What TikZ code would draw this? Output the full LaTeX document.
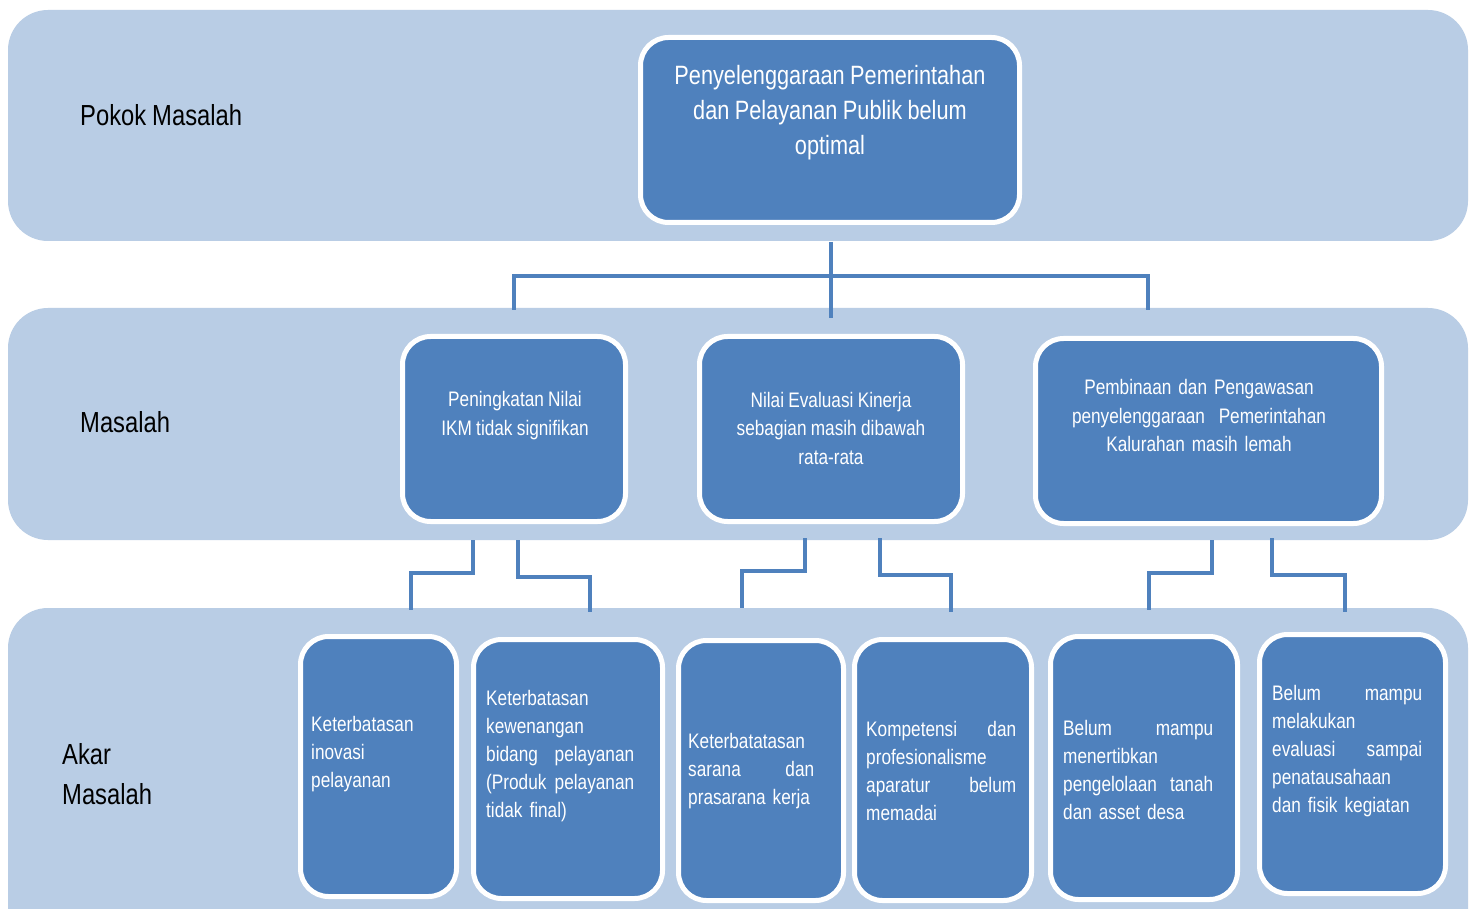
\documentclass[tikz,border=0pt]{standalone}
\usepackage{fontspec}
\setmainfont{Liberation Sans}[FakeStretch=0.82,WordSpace=0.9]
\definecolor{bandc}{HTML}{B9CDE5}
\definecolor{boxc}{HTML}{4F81BD}
\begin{document}
\begin{tikzpicture}[x=1pt,y=-1pt,
  band/.style={fill=bandc, draw=none, rounded corners=40pt, inner sep=0pt},
  box/.style={fill=boxc, draw=white, line width=5pt, rounded corners=28pt, inner sep=0pt},
  conn/.style={draw=boxc, line width=4pt},
  lbl/.style={font=\fontsize{29}{40}\selectfont, anchor=west, align=left, inner sep=0pt, text=black},
  toptxt/.style={font=\fontsize{26.5}{35}\selectfont, text=white, align=center, inner sep=0pt},
  midtxt/.style={font=\fontsize{21}{28.5}\selectfont, text=white, align=center, inner sep=0pt},
  bottxt/.style={font=\fontsize{21}{28}\selectfont, text=white, align=left, inner sep=0pt, anchor=west}
]
\useasboundingbox (0,0) rectangle (1476,909);
\clip (0,0) rectangle (1476,909);
\fill[white] (0,0) rectangle (1476,909);

% bands
\node[band, minimum width=1460pt, minimum height=231pt] (band1) at (738,125.5) {};
\node[band, minimum width=1460pt, minimum height=232pt] (band2) at (738,424) {};
\node[band, minimum width=1460pt, minimum height=360pt] (band3) at (738,788) {};

% labels
\node[lbl] (l1) at (80,115) {Pokok Masalah};
\node[lbl] (l2) at (80,422) {Masalah};
\node[lbl] (l3) at (62,774) {Akar\\Masalah};

% top box
\node[box, minimum width=379pt, minimum height=185pt] (top) at (830,130) {};
\node[toptxt] (ttop) at (830,113) {Penyelenggaraan Pemerintahan\\dan Pelayanan Publik belum\\optimal};

% middle boxes
\node[box, minimum width=223pt, minimum height=185pt] (m1) at (514,429) {};
\node[box, minimum width=263pt, minimum height=185pt] (m2) at (831,429) {};
\node[box, minimum width=346pt, minimum height=185pt] (m3) at (1208.5,431) {};
\node[midtxt] (tm1) at (515,415.5) {Peningkatan Nilai\\IKM tidak signifikan};
\node[midtxt] (tm2) at (831,428) {Nilai Evaluasi Kinerja\\sebagian masih dibawah\\rata-rata};
\node[midtxt, text width=254pt] (tm3) at (1199,415.5) {Pembinaan dan Pengawasan\\penyelenggaraan\hfill Pemerintahan\\Kalurahan masih lemah};

% bottom boxes
\node[box, minimum width=156pt, minimum height=260pt] (b1) at (378.5,766.5) {};
\node[box, minimum width=189pt, minimum height=259pt] (b2) at (568,769) {};
\node[box, minimum width=165pt, minimum height=260pt] (b3) at (761,770.5) {};
\node[box, minimum width=177pt, minimum height=261pt] (b4) at (943,770) {};
\node[box, minimum width=187pt, minimum height=263pt] (b5) at (1144,768) {};
\node[box, minimum width=186pt, minimum height=259pt] (b6) at (1352.5,764) {};

\node[bottxt, text width=135pt] (tb1) at (311,754) {Keterbatasan\\inovasi\\pelayanan};
\node[bottxt, text width=148pt] (tb2) at (486,756) {Keterbatasan\\kewenangan\\bidang\hfill pelayanan\\(Produk\hfill pelayanan\\tidak final)};
\node[bottxt, text width=126pt] (tb3) at (688,771) {Keterbatatasan\\sarana\hfill dan\\prasarana kerja};
\node[bottxt, text width=150pt] (tb4) at (866,771) {Kompetensi\hfill dan\\profesionalisme\\aparatur\hfill belum\\memadai};
\node[bottxt, text width=150pt] (tb5) at (1063,770) {Belum\hfill mampu\\menertibkan\\pengelolaan\hfill tanah\\dan asset desa};
\node[bottxt, text width=150pt] (tb6) at (1272,751) {Belum\hfill mampu\\melakukan\\evaluasi\hfill sampai\\penatausahaan\\dan fisik kegiatan};

% connector coordinates: top level
\coordinate (h0) at (831,242);
\coordinate (h1) at (831,318);
\coordinate (hl) at (514,310);
\coordinate (hr) at (1148,310);
\draw[conn] (h0) -- (h1);
\draw[conn] (hl) -- (514,276) -- (1148,276) -- (hr);

% connector coordinates: middle to bottom
\coordinate (a1) at (473,540); \coordinate (e1) at (411,610);
\coordinate (a2) at (518,540); \coordinate (e2) at (590,612);
\coordinate (a3) at (805,538); \coordinate (e3) at (742,608);
\coordinate (a4) at (880,538); \coordinate (e4) at (951,612);
\coordinate (a5) at (1212,540); \coordinate (e5) at (1149,610);
\coordinate (a6) at (1272,538); \coordinate (e6) at (1345,612);
\draw[conn] (a1) |- (442,573) -| (e1);
\draw[conn] (a2) |- (554,577) -| (e2);
\draw[conn] (a3) |- (773,571) -| (e3);
\draw[conn] (a4) |- (915,575) -| (e4);
\draw[conn] (a5) |- (1180,573) -| (e5);
\draw[conn] (a6) |- (1308,575) -| (e6);
\end{tikzpicture}
\end{document}
